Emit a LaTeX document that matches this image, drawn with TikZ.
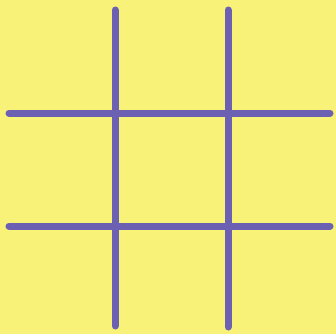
\documentclass[tikz,border=0pt]{standalone}
\begin{document}
\begin{tikzpicture}[x=1pt,y=-1pt,
  gridline/.style={line width=7pt,line cap=round,draw=gridpurple}]
\definecolor{paper}{RGB}{248,242,120}
\definecolor{gridpurple}{RGB}{108,96,178}
\fill[paper] (0,0) rectangle (336,334);
\useasboundingbox (0,0) rectangle (336,334);
\coordinate (v1t) at (115,10); \coordinate (v1b) at (115,326);
\coordinate (v2t) at (228,10); \coordinate (v2b) at (228,327);
\coordinate (h1l) at (9,113); \coordinate (h1r) at (330,113);
\coordinate (h2l) at (9,226); \coordinate (h2r) at (330,226);
\draw[gridline] (v1t) -- (v1b);
\draw[gridline] (v2t) -- (v2b);
\draw[gridline] (h1l) -- (h1r);
\draw[gridline] (h2l) -- (h2r);
\end{tikzpicture}
\end{document}
